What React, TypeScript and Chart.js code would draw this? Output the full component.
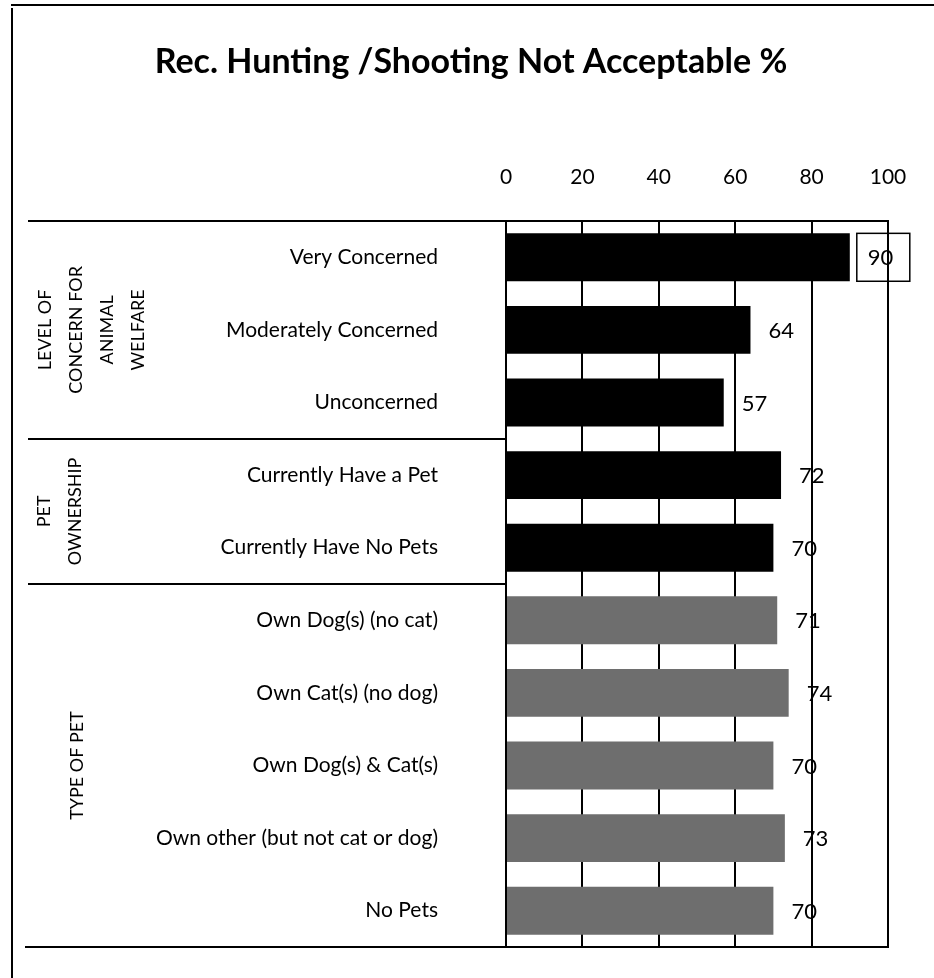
import React, { useEffect, useRef } from 'react';
import { Chart, registerables } from 'chart.js';

Chart.register(...registerables);

const chartTitle = 'Rec. Hunting /Shooting Not Acceptable %';
const categories = [
  'Very Concerned',
  'Moderately Concerned',
  'Unconcerned',
  'Currently Have a Pet',
  'Currently Have No Pets',
  'Own Dog(s) (no cat)',
  'Own Cat(s) (no dog)',
  'Own Dog(s) & Cat(s)',
  'Own other (but not cat or dog)',
  'No Pets',
];
const values = [90, 64, 57, 72, 70, 71, 74, 70, 73, 70];
const groupLines = [
  ['LEVEL OF', 'CONCERN FOR', 'ANIMAL', 'WELFARE'],
  ['PET', 'OWNERSHIP'],
  ['TYPE OF PET'],
];
const groupFirst = [0, 3, 5];
const groupLast = [2, 4, 9];
const groupColors = ['#000000', '#000000', '#6e6e6e'];
const xMin = 0;
const xMax = 100;
const xStep = 20;
const boxedIndex = [0];

const FONT = 'Lato, "Open Sans", sans-serif';

function colorFor(i: number): string {
  for (let g = 0; g < groupFirst.length; g++) {
    if (i >= groupFirst[g] && i <= groupLast[g]) return groupColors[g];
  }
  return '#000';
}

const decorPlugin = {
  id: 'decor',
  afterDraw(chart: any) {
    const ctx = chart.ctx as CanvasRenderingContext2D;
    const { left, right, top, bottom } = chart.chartArea;
    const y = chart.scales.y;
    ctx.save();
    ctx.strokeStyle = '#000';
    ctx.lineWidth = 2;
    ctx.beginPath();
    ctx.moveTo(11, 5);
    ctx.lineTo(934, 5);
    ctx.moveTo(12, 8);
    ctx.lineTo(12, 978);
    ctx.stroke();
    ctx.beginPath();
    ctx.moveTo(28, top);
    ctx.lineTo(right, top);
    ctx.moveTo(25, bottom);
    ctx.lineTo(right + 1, bottom);
    ctx.stroke();
    for (let g = 0; g < groupFirst.length - 1; g++) {
      const yy = Math.round((y.getPixelForValue(groupLast[g]) + y.getPixelForValue(groupFirst[g + 1])) / 2);
      ctx.beginPath();
      ctx.moveTo(28, yy);
      ctx.lineTo(left, yy);
      ctx.stroke();
    }
    const gx = [92, 60, 77];
    ctx.fillStyle = '#000';
    ctx.font = `18px ${FONT}`;
    ctx.textAlign = 'center';
    ctx.textBaseline = 'middle';
    for (let g = 0; g < groupLines.length; g++) {
      const cy = (y.getPixelForValue(groupFirst[g]) + y.getPixelForValue(groupLast[g])) / 2;
      const lines = groupLines[g];
      ctx.save();
      ctx.translate(gx[g], cy);
      ctx.rotate(-Math.PI / 2);
      lines.forEach((t, i) => {
        ctx.fillText(t, 0, (i - (lines.length - 1) / 2) * 31);
      });
      ctx.restore();
    }
    ctx.restore();
  },
  afterDatasetsDraw(chart: any) {
    const ctx = chart.ctx as CanvasRenderingContext2D;
    const meta = chart.getDatasetMeta(0);
    ctx.save();
    ctx.fillStyle = '#000';
    ctx.font = `22px ${FONT}`;
    ctx.textAlign = 'left';
    ctx.textBaseline = 'middle';
    meta.data.forEach((bar: any, i: number) => {
      const label = String(values[i]);
      const tx = bar.x + 18;
      if (boxedIndex.includes(i)) {
        const h = bar.height;
        ctx.lineWidth = 1.5;
        ctx.strokeStyle = '#000';
        ctx.strokeRect(bar.x + 7, bar.y - h / 2, 53, h);
      }
      ctx.fillText(label, tx, bar.y + 1);
    });
    ctx.restore();
  },
};

export default function App() {
  const ref = useRef<HTMLCanvasElement | null>(null);
  useEffect(() => {
    if (!ref.current) return;
    const chart = new Chart(ref.current, {
      type: 'bar',
      data: {
        labels: categories,
        datasets: [
          {
            data: values,
            backgroundColor: values.map((_, i) => colorFor(i)),
            barPercentage: 0.66,
            categoryPercentage: 1,
          },
        ],
      },
      options: {
        indexAxis: 'y',
        responsive: false,
        animation: false,
        devicePixelRatio: 1,
        layout: { padding: { left: 54, right: 46, top: 0, bottom: 31 } },
        plugins: {
          legend: { display: false },
          tooltip: { enabled: false },
          title: {
            display: true,
            text: chartTitle,
            color: '#000',
            font: { family: FONT, size: 34, weight: 'bold' },
            padding: { top: 42, bottom: 0 },
          },
        },
        scales: {
          x: {
            position: 'top',
            min: xMin,
            max: xMax,
            ticks: { stepSize: xStep, color: '#000', font: { family: FONT, size: 21 }, padding: 31 },
            grid: { color: '#000', lineWidth: 2, drawTicks: false },
            border: { display: true, color: '#000', width: 2 },
            afterFit: (s: any) => {
              s.height = 138.2;
              s.paddingLeft = 0;
              s.paddingRight = 0;
            },
          },
          y: {
            ticks: { color: '#000', font: { family: FONT, size: 21 }, padding: 60 },
            grid: { display: false },
            border: { display: true, color: '#000', width: 2 },
            afterFit: (s: any) => {
              s.width = 452;
              s.paddingTop = 0;
              s.paddingBottom = 0;
            },
          },
        },
      },
      plugins: [decorPlugin],
    });
    return () => chart.destroy();
  }, []);
  return (
    <div style={{ position: 'absolute', left: 0, top: 0, width: 934, height: 978, background: '#fff' }}>
      <canvas ref={ref} width={934} height={978} />
    </div>
  );
}
